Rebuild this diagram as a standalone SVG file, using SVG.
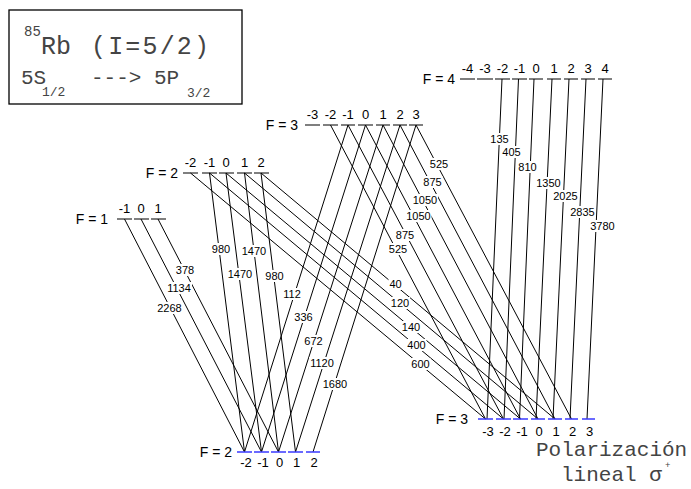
<svg xmlns="http://www.w3.org/2000/svg" width="691" height="489" viewBox="0 0 691 489">
<style>
.lv{stroke:#000;stroke-width:1.2;fill:none}
.gl{stroke:#3a3aff;stroke-width:1.4;fill:none}
.ln{stroke:#000;stroke-width:1;fill:none}
.fl{font-family:"Liberation Sans",Arial,sans-serif;font-size:14px;fill:#000}
.m{font-family:"Liberation Sans",Arial,sans-serif;font-size:13px;fill:#000;text-anchor:middle}
.lb{font-family:"Liberation Sans",Arial,sans-serif;font-size:11px;fill:#000;text-anchor:middle}
.bg{fill:#fff;height:12px}
.mono{font-family:"Liberation Mono","Courier New",monospace;fill:#444}
#all{opacity:0.995}
</style>
<rect width="691" height="489" fill="#fff"/>
<g id="all">
<g id="title">
<rect x="9" y="10" width="233" height="94" fill="none" stroke="#000" stroke-width="1.3"/>
<text class="mono" x="24" y="36" font-size="14">85</text>
<text class="mono" x="41" y="54" font-size="25">Rb</text>
<text class="mono" x="91" y="54" font-size="25" textLength="118" lengthAdjust="spacing">(I=5/2)</text>
<text class="mono" x="21" y="84" font-size="21">5S</text>
<text class="mono" x="42" y="96" font-size="13">1/2</text>
<text class="mono" x="91" y="84" font-size="21">---&gt; 5P</text>
<text class="mono" x="187" y="97" font-size="13">3/2</text>
</g>
<g id="connectors">
<path class="ln" d="M124.5,219L244.5,452M141,219L261.5,452M158,219L278.5,452"/>
<path class="ln" d="M209.5,173L244.5,452M226,173L261.5,452M244.5,173L278.5,452M261,173L295.5,452"/>
<path class="ln" d="M190.5,173L485.5,419M209.5,173L503.5,419M226,173L520.5,419M244.5,173L538,419M261,173L555,419"/>
<path class="ln" d="M348,125L244.5,452M365.5,125L261.5,452M383,125L278.5,452M400,125L295.5,452M416,125L313,452"/>
<path class="ln" d="M330.5,125L485.5,419M348,125L503.5,419M365.5,125L520.5,419M383,125L538,419M400,125L555,419M416,125L571.5,419"/>
<path class="ln" d="M502,79L487,419M518.5,79L504,419M534,79L519.5,419M552,79L536,419M569,79L553,419M586,79L570,419M603,79L587,419"/>
<g id="labels">
<rect class="bg" x="489.5" y="133" width="20"/><text class="lb" x="499.5" y="143">135</text>
<rect class="bg" x="501.5" y="146" width="20"/><text class="lb" x="511.5" y="156">405</text>
<rect class="bg" x="517.5" y="161" width="20"/><text class="lb" x="527.5" y="171">810</text>
<rect class="bg" x="535.5" y="177" width="26"/><text class="lb" x="548.5" y="187">1350</text>
<rect class="bg" x="552.5" y="190" width="26"/><text class="lb" x="565.5" y="200">2025</text>
<rect class="bg" x="569.5" y="206" width="26"/><text class="lb" x="582.5" y="216">2835</text>
<rect class="bg" x="589.5" y="220" width="26"/><text class="lb" x="602.5" y="230">3780</text>
<rect class="bg" x="429" y="158" width="20"/><text class="lb" x="439" y="168">525</text>
<rect class="bg" x="422.5" y="176" width="20"/><text class="lb" x="432.5" y="186">875</text>
<rect class="bg" x="412" y="194" width="26"/><text class="lb" x="425" y="204">1050</text>
<rect class="bg" x="405.5" y="210" width="26"/><text class="lb" x="418.5" y="220">1050</text>
<rect class="bg" x="395" y="229" width="20"/><text class="lb" x="405" y="239">875</text>
<rect class="bg" x="388" y="243" width="20"/><text class="lb" x="398" y="253">525</text>
<rect class="bg" x="282" y="288" width="20"/><text class="lb" x="292" y="298">112</text>
<rect class="bg" x="293.5" y="311" width="20"/><text class="lb" x="303.5" y="321">336</text>
<rect class="bg" x="303.5" y="335" width="20"/><text class="lb" x="313.5" y="345">672</text>
<rect class="bg" x="309" y="357" width="26"/><text class="lb" x="322" y="367">1120</text>
<rect class="bg" x="322" y="378" width="26"/><text class="lb" x="335" y="388">1680</text>
<rect class="bg" x="211" y="243" width="20"/><text class="lb" x="221" y="253">980</text>
<rect class="bg" x="241" y="245" width="26"/><text class="lb" x="254" y="255">1470</text>
<rect class="bg" x="227" y="268" width="26"/><text class="lb" x="240" y="278">1470</text>
<rect class="bg" x="264.5" y="270" width="20"/><text class="lb" x="274.5" y="280">980</text>
<rect class="bg" x="175" y="264" width="20"/><text class="lb" x="185" y="274">378</text>
<rect class="bg" x="166" y="282" width="26"/><text class="lb" x="179" y="292">1134</text>
<rect class="bg" x="156.5" y="302" width="26"/><text class="lb" x="169.5" y="312">2268</text>
<rect class="bg" x="388.5" y="278" width="14"/><text class="lb" x="395.5" y="288">40</text>
<rect class="bg" x="390" y="297" width="20"/><text class="lb" x="400" y="307">120</text>
<rect class="bg" x="401" y="321" width="20"/><text class="lb" x="411" y="331">140</text>
<rect class="bg" x="406.5" y="339" width="20"/><text class="lb" x="416.5" y="349">400</text>
<rect class="bg" x="410.5" y="358" width="20"/><text class="lb" x="420.5" y="368">600</text>
</g>
</g>
<g id="F1e">
<text class="fl" x="108" y="224" text-anchor="end">F = 1</text>
<path class="lv" d="M117,219h15M134,219h15M151,219h15"/>
<text class="m" x="124.5" y="213">-1</text><text class="m" x="141" y="213">0</text><text class="m" x="158" y="213">1</text>
</g>
<g id="F2e">
<text class="fl" x="178" y="178" text-anchor="end">F = 2</text>
<path class="lv" d="M183,173h15M202,173h15M219,173h15M237,173h15M254,173h15"/>
<text class="m" x="190.5" y="167">-2</text><text class="m" x="209.5" y="167">-1</text><text class="m" x="226" y="167">0</text><text class="m" x="244.5" y="167">1</text><text class="m" x="261" y="167">2</text>
</g>
<g id="F3e">
<text class="fl" x="298" y="130" text-anchor="end">F = 3</text>
<path class="lv" d="M305,125h15M323,125h15M341,125h14M358,125h15M376,125h14M393,125h14M409,125h14"/>
<text class="m" x="312.5" y="119">-3</text><text class="m" x="330.5" y="119">-2</text><text class="m" x="348" y="119">-1</text><text class="m" x="365.5" y="119">0</text><text class="m" x="383" y="119">1</text><text class="m" x="400" y="119">2</text><text class="m" x="416" y="119">3</text>
</g>
<g id="F4e">
<text class="fl" x="455" y="84" text-anchor="end">F = 4</text>
<path class="lv" d="M460,79h15M477,79h16M495,79h15M512,79h15M529,79h14M547,79h14M564,79h14M581,79h14M598,79h14"/>
<text class="m" x="467.5" y="73">-4</text><text class="m" x="485" y="73">-3</text><text class="m" x="502.5" y="73">-2</text><text class="m" x="519.5" y="73">-1</text><text class="m" x="536" y="73">0</text><text class="m" x="554" y="73">1</text><text class="m" x="571" y="73">2</text><text class="m" x="588" y="73">3</text><text class="m" x="605" y="73">4</text>
</g>
<g id="F2g">
<text class="fl" x="232" y="457" text-anchor="end">F = 2</text>
<path class="gl" d="M237,452h15M254,452h15M271,452h15M288,452h15M306,452h14"/>
<text class="m" x="246" y="467">-2</text><text class="m" x="263" y="467">-1</text><text class="m" x="279.5" y="467">0</text><text class="m" x="296.5" y="467">1</text><text class="m" x="314" y="467">2</text>
</g>
<g id="F3g">
<text class="fl" x="468" y="424" text-anchor="end">F = 3</text>
<path class="gl" d="M478,419h15M496,419h15M513,419h15M531,419h14M548,419h14M565,419h13M582,419h13"/>
<text class="m" x="488" y="436">-3</text><text class="m" x="505" y="436">-2</text><text class="m" x="522" y="436">-1</text><text class="m" x="539" y="436">0</text><text class="m" x="556" y="436">1</text><text class="m" x="572.5" y="436">2</text><text class="m" x="589.5" y="436">3</text>
</g>
<g id="pol">
<text class="mono" x="536" y="456" font-size="21">Polarización</text>
<text class="mono" x="561" y="481" font-size="21">lineal σ</text>
<text class="mono" x="665" y="468" font-size="9">+</text>
</g>
</g>
</svg>
